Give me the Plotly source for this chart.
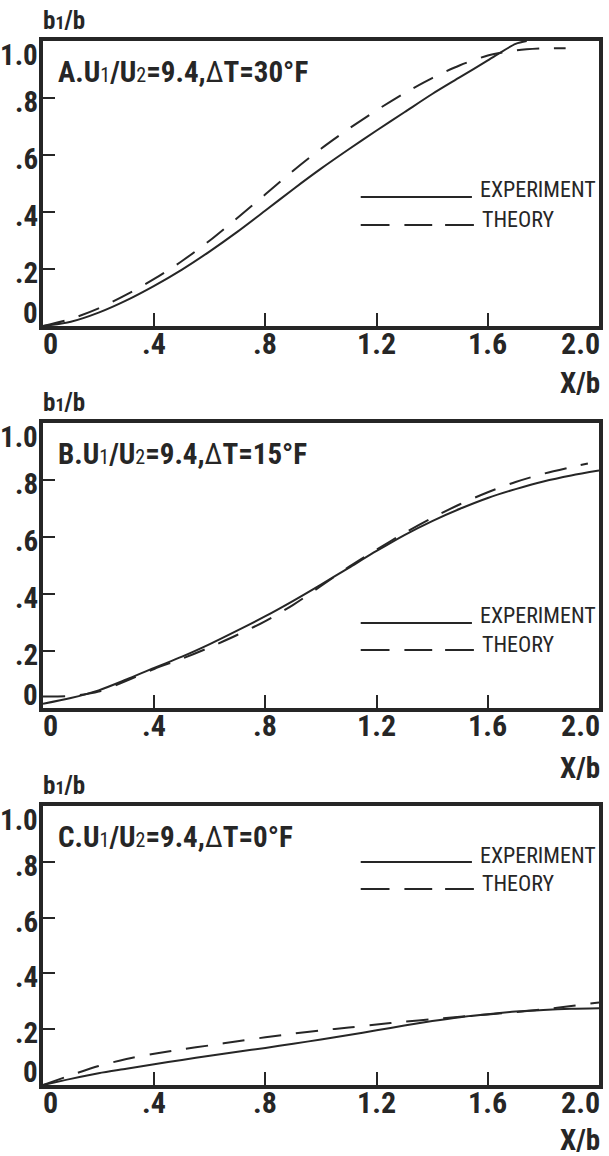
import plotly.graph_objects as go

# ---------------------------------------------------------------------------
# Data: spreading ratio b1/b versus downstream distance X/b
# ---------------------------------------------------------------------------
x_exp_a = [0, 0.1, 0.2, 0.3, 0.4, 0.5, 0.6, 0.7, 0.8, 0.9, 1.0, 1.1, 1.2, 1.3, 1.4, 1.5, 1.6, 1.7, 1.74]
y_exp_a = [0, 0.015, 0.047, 0.09, 0.141, 0.198, 0.262, 0.331, 0.405, 0.48, 0.552, 0.62, 0.686, 0.75, 0.814, 0.873, 0.932, 0.99, 1.0]
x_thy_a = [0, 0.1, 0.2, 0.3, 0.4, 0.5, 0.6, 0.7, 0.8, 0.9, 1.0, 1.1, 1.2, 1.3, 1.4, 1.5, 1.6, 1.7, 1.8, 1.88]
y_thy_a = [0, 0.025, 0.062, 0.11, 0.165, 0.228, 0.3, 0.38, 0.462, 0.545, 0.622, 0.692, 0.757, 0.817, 0.87, 0.915, 0.949, 0.967, 0.974, 0.975]

x_exp_b = [0, 0.1, 0.2, 0.3, 0.4, 0.5, 0.6, 0.7, 0.8, 0.9, 1.0, 1.1, 1.2, 1.3, 1.4, 1.5, 1.6, 1.7, 1.8, 1.9, 2.0]
y_exp_b = [0.015, 0.035, 0.062, 0.1, 0.141, 0.18, 0.224, 0.272, 0.322, 0.376, 0.433, 0.492, 0.551, 0.607, 0.656, 0.699, 0.737, 0.768, 0.795, 0.816, 0.833]
x_thy_b = [0, 0.1, 0.2, 0.3, 0.4, 0.5, 0.6, 0.7, 0.8, 0.9, 1.0, 1.1, 1.2, 1.3, 1.4, 1.5, 1.6, 1.7, 1.8, 1.9, 1.96]
y_thy_b = [0.04, 0.042, 0.058, 0.095, 0.137, 0.173, 0.213, 0.257, 0.305, 0.362, 0.428, 0.495, 0.556, 0.614, 0.667, 0.715, 0.757, 0.793, 0.822, 0.845, 0.858]

x_exp_c = [0, 0.1, 0.2, 0.3, 0.4, 0.5, 0.6, 0.7, 0.8, 0.9, 1.0, 1.1, 1.2, 1.3, 1.4, 1.5, 1.6, 1.7, 1.8, 1.9, 2.0]
y_exp_c = [0, 0.022, 0.042, 0.058, 0.074, 0.09, 0.105, 0.119, 0.133, 0.148, 0.163, 0.179, 0.196, 0.213, 0.229, 0.243, 0.254, 0.263, 0.269, 0.273, 0.275]
x_thy_c = [0, 0.1, 0.2, 0.3, 0.4, 0.5, 0.6, 0.7, 0.8, 0.9, 1.0, 1.1, 1.2, 1.3, 1.4, 1.5, 1.6, 1.7, 1.8, 1.9, 2.0]
y_thy_c = [0, 0.035, 0.068, 0.093, 0.112, 0.128, 0.142, 0.157, 0.171, 0.184, 0.196, 0.206, 0.217, 0.227, 0.236, 0.245, 0.253, 0.261, 0.271, 0.283, 0.296]

panel_letters = ["A", "B", "C"]
delta_t = ["30", "15", "0"]
velocity_ratio = "9.4"

x_tick_vals = [0, 0.4, 0.8, 1.2, 1.6, 2.0]
x_tick_text = ["0", ".4", ".8", "1.2", "1.6", "2.0"]
y_tick_vals = [0, 0.2, 0.4, 0.6, 0.8, 1.0]
y_tick_text = ["0", ".2", ".4", ".6", ".8", "1.0"]

# ---------------------------------------------------------------------------
# Page geometry (pixels) and styling
# ---------------------------------------------------------------------------
W, H = 609, 1156
ML, MR, MT, MB = 43, 6, 41, 71
PW = W - ML - MR
PH = H - MT - MB

INK = "#262626"
BOLD = "Roboto Condensed, Liberation Sans Narrow, DejaVu Sans Condensed, Arial Narrow, sans-serif"
REG = "Roboto Condensed, Liberation Sans Narrow, DejaVu Sans Condensed, Arial Narrow, sans-serif"


def px(xp):
    return (xp - ML) / PW


def py(yp):
    return (H - MB - yp) / PH


# panel frames: top / bottom pixel rows of each plotting box
frames = [(41, 326), (423, 708), (806, 1085)]
# pixel rows of the key: solid sample, its label, dashed sample, its label
legend_rows = [(197, 190, 225, 219), (623, 615, 650, 644), (862, 855, 889, 883)]
# vertical offset of the X/b caption below each panel
xcap_shift = [-57, -60, -55]

series = [
    (x_exp_a, y_exp_a, x_thy_a, y_thy_a),
    (x_exp_b, y_exp_b, x_thy_b, y_thy_b),
    (x_exp_c, y_exp_c, x_thy_c, y_thy_c),
]

fig = go.Figure()
annotations = []
shapes = []

for i, ((top, bottom), (xe, ye, xt, yt)) in enumerate(zip(frames, series)):
    n = "" if i == 0 else str(i + 1)
    xa, ya = "x" + n, "y" + n

    fig.add_trace(go.Scatter(
        x=xe, y=ye, mode="lines", xaxis=xa, yaxis=ya, showlegend=False,
        line=dict(color=INK, width=2, shape="spline", smoothing=0.8),
        hoverinfo="skip"))
    fig.add_trace(go.Scatter(
        x=xt, y=yt, mode="lines", xaxis=xa, yaxis=ya, showlegend=False,
        line=dict(color=INK, width=2, dash="22px,15px", shape="spline", smoothing=0.8),
        hoverinfo="skip"))

    axis_common = dict(
        showline=True, linewidth=3.5, linecolor=INK, mirror=True,
        ticks="inside", tickwidth=2, tickcolor=INK,
        showticklabels=False, showgrid=False, zeroline=False, fixedrange=True,
    )
    fig.layout["xaxis" + n] = dict(
        domain=[0, 1], range=[0, 2], anchor=ya, ticklen=13,
        tickvals=x_tick_vals[1:-1], **axis_common)
    fig.layout["yaxis" + n] = dict(
        domain=[py(bottom), py(top)], range=[0, 1], anchor=xa, ticklen=12,
        tickvals=y_tick_vals[1:-1], **axis_common)

    # x tick labels
    for v, t in zip(x_tick_vals, x_tick_text):
        anchor = "left" if v == 0 else ("right" if v == 2.0 else "center")
        shift = -2 if v == 0 else (3 if v == 2.0 else 0)
        annotations.append(dict(
            x=v, y=0, xref=xa, yref=ya, text=t, showarrow=False,
            xanchor=anchor, yanchor="middle", xshift=shift, yshift=-17,
            font=dict(family=BOLD, size=30, color=INK, weight="bold")))
    # y tick labels
    for v, t in zip(y_tick_vals, y_tick_text):
        ys = 13 if v == 0 else (-14 if v == 1.0 else -4)
        annotations.append(dict(
            x=0, y=v, xref=xa, yref=ya, text=t, showarrow=False,
            xanchor="right", yanchor="middle", xshift=-3, yshift=ys,
            font=dict(family=BOLD, size=29, color=INK, weight="bold")))

    # axis titles
    annotations.append(dict(
        x=0, y=1, xref=xa, yref=ya, showarrow=False, xanchor="left", yanchor="middle",
        xshift=-2, yshift=21,
        text="b<span style='font-size:18px'>1</span>/b",
        font=dict(family=BOLD, size=25, color=INK, weight="bold")))
    annotations.append(dict(
        x=2, y=0, xref=xa, yref=ya, showarrow=False, xanchor="right", yanchor="middle",
        xshift=3, yshift=xcap_shift[i],
        text="X/b",
        font=dict(family=BOLD, size=29, color=INK, weight="bold")))

    # panel caption
    annotations.append(dict(
        x=0, y=1, xref=xa, yref=ya, showarrow=False, xanchor="left", yanchor="middle",
        xshift=13, yshift=-31,
        text=(panel_letters[i] + ".U<span style='font-size:20px;font-weight:normal'>1</span>"
              "/U<span style='font-size:20px;font-weight:normal'>2</span>="
              + velocity_ratio + ",<span style='font-weight:normal'>\u0394</span>T="
              + delta_t[i] + "\u00b0F"),
        font=dict(family=BOLD, size=29, color=INK, weight="bold")))

    # in-panel key
    line_y, exp_text_y, dash_y, thy_text_y = legend_rows[i]
    shapes.append(dict(type="line", xref="paper", yref="paper",
                       x0=px(363), x1=px(475), y0=py(line_y), y1=py(line_y),
                       line=dict(color=INK, width=2)))
    for a, b in [(363, 392), (407, 435), (448, 477)]:
        shapes.append(dict(type="line", xref="paper", yref="paper",
                           x0=px(a), x1=px(b), y0=py(dash_y), y1=py(dash_y),
                           line=dict(color=INK, width=2)))
    annotations.append(dict(
        x=px(481), y=py(exp_text_y), xref="paper", yref="paper", showarrow=False,
        xanchor="left", yanchor="middle", text="EXPERIMENT",
        font=dict(family=REG, size=22, color=INK)))
    annotations.append(dict(
        x=px(483), y=py(thy_text_y), xref="paper", yref="paper", showarrow=False,
        xanchor="left", yanchor="middle", text="THEORY",
        font=dict(family=REG, size=22, color=INK)))

fig.update_layout(
    width=W, height=H,
    margin=dict(l=ML, r=MR, t=MT, b=MB),
    paper_bgcolor="white", plot_bgcolor="white",
    showlegend=False,
    annotations=annotations, shapes=shapes,
)

fig.write_html("out.html", config={"displayModeBar": False})
